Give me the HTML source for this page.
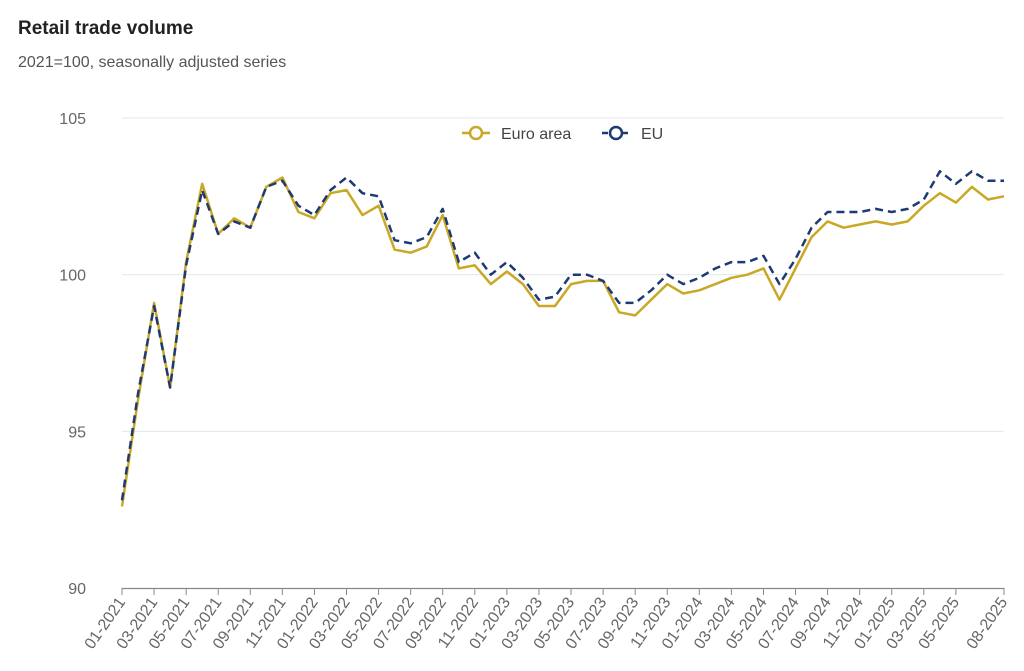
<!DOCTYPE html>
<html><head><meta charset="utf-8"><style>
body{margin:0;background:#fff;width:1024px;height:666px;overflow:hidden;font-family:"Liberation Sans",sans-serif}
</style></head><body>
<svg id="s" width="1024" height="666" xmlns="http://www.w3.org/2000/svg" font-family="Liberation Sans, sans-serif">
<text x="18" y="34" font-size="19" font-weight="bold" fill="#222">Retail trade volume</text>
<text x="18" y="67" font-size="16" fill="#555">2021=100, seasonally adjusted series</text>
</svg>
<script>
const s=document.getElementById('s'),NS='http://www.w3.org/2000/svg';
function el(t,a,txt){const e=document.createElementNS(NS,t);for(const k in a)e.setAttribute(k,a[k]);if(txt!==undefined)e.textContent=txt;s.appendChild(e);return e;}
const X0=122,X1=1004,N=56,dx=(X1-X0)/(N-1);
const Y=v=>588-(v-90)*470/15;
[105,100,95].forEach(v=>{el('line',{x1:122,x2:1004,y1:Y(v),y2:Y(v),stroke:'#e3e8ec','stroke-width':1});});
[105,100,95,90].forEach(v=>el('text',{x:86,y:Y(v)+6,'font-size':16,fill:'#666','text-anchor':'end'},v));
el('line',{x1:122,x2:1004,y1:588.5,y2:588.5,stroke:'#888','stroke-width':1.2});
const ea=[92.6,96,99.1,96.4,100.4,102.9,101.3,101.8,101.5,102.8,103.1,102.0,101.8,102.6,102.7,101.9,102.2,100.8,100.7,100.9,101.9,100.2,100.3,99.7,100.1,99.7,99.0,99.0,99.7,99.8,99.8,98.8,98.7,99.2,99.7,99.4,99.5,99.7,99.9,100.0,100.2,99.2,100.2,101.2,101.7,101.5,101.6,101.7,101.6,101.7,102.2,102.6,102.3,102.8,102.4,102.5];
const eu=[92.8,96.2,99.0,96.4,100.3,102.7,101.3,101.7,101.5,102.8,103.0,102.2,101.9,102.7,103.1,102.6,102.5,101.1,101.0,101.2,102.1,100.4,100.7,100.0,100.4,99.9,99.2,99.3,100.0,100.0,99.8,99.1,99.1,99.5,100.0,99.7,99.9,100.2,100.4,100.4,100.6,99.7,100.5,101.5,102.0,102.0,102.0,102.1,102.0,102.1,102.4,103.3,102.9,103.3,103.0,103.0];
const pts=a=>a.map((v,i)=>(X0+i*dx).toFixed(1)+','+Y(v).toFixed(1)).join(' ');
el('polyline',{points:pts(ea),fill:'none',stroke:'#c9a825','stroke-width':2.5,'stroke-linejoin':'round'});
el('polyline',{points:pts(eu),fill:'none',stroke:'#1f3a73','stroke-width':2.5,'stroke-dasharray':'8,5','stroke-linejoin':'round'});
for(let i=0;i<N;i++){if((i%2 && i!==N-1)||i===N-2)continue;const x=X0+i*dx;
el('line',{x1:x,x2:x,y1:588,y2:595,stroke:'#888'});
const m=(i%12)+1,y=2021+Math.floor(i/12);const lab=(m<10?'0':'')+m+'-'+y;
el('text',{x:x+4,y:602,'font-size':16,fill:'#666','text-anchor':'end',transform:`rotate(-55 ${x+4} 602)`},lab);}
el('line',{x1:462,x2:490,y1:133,y2:133,stroke:'#c9a825','stroke-width':2.5});
el('circle',{cx:476,cy:133,r:6,fill:'#fff',stroke:'#c9a825','stroke-width':2.5});
el('text',{x:501,y:139,'font-size':16,fill:'#444'},'Euro area');
el('line',{x1:602,x2:630,y1:133,y2:133,stroke:'#1f3a73','stroke-width':2.5,'stroke-dasharray':'6,4'});
el('circle',{cx:616,cy:133,r:6,fill:'#fff',stroke:'#1f3a73','stroke-width':2.5});
el('text',{x:641,y:139,'font-size':16,fill:'#444'},'EU');
</script>
</body></html>
